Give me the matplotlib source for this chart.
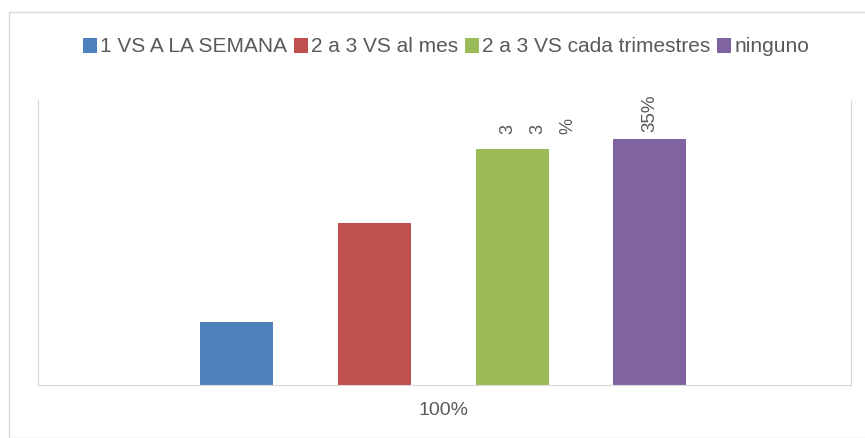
import matplotlib.pyplot as plt
from matplotlib.patches import Rectangle

# data
series = ['1 VS A LA SEMANA', '2 a 3 VS al mes', '2 a 3 VS cada trimestres', 'ninguno']
values = [9, 23, 33.5, 35]
labels = ['', '', '3 3 %', '35%']   # only the last two bars carry labels
category = ['100%']
colors = ['#4F81BD', '#C0504D', '#9BBB59', '#8064A2']

plt.rcParams['font.family'] = ['Liberation Sans Narrow', 'Liberation Sans', 'DejaVu Sans']
grey = '#595959'

fig = plt.figure(figsize=(8.65, 4.38), dpi=100)
W, H = 865, 438
# outer chart border
fig.patches.append(Rectangle((9 / W, 0), 1.2, (H - 12) / H, transform=fig.transFigure,
                             fill=False, edgecolor='#D9D9D9', lw=1))

ax = fig.add_axes([38 / W, (H - 385) / H, (851 - 38) / W, (385 - 100) / H])
x = list(range(len(values)))
bars = ax.bar(x, values, width=0.53, color=colors, label=series)
ax.set_xlim(-1.44, 4.46)
ax.set_ylim(0, 40.5)

ax.spines['top'].set_visible(False)
for s in ['left', 'right', 'bottom']:
    ax.spines[s].set_color('#D9D9D9')
ax.set_yticks([])
ax.set_xticks([1.5])
ax.set_xticklabels(category, fontsize=14, color=grey)
ax.tick_params(axis='x', length=0, pad=12)

# data labels, rotated
for i, (v, lab) in enumerate(zip(values, labels)):
    if not lab:
        continue
    if ' ' in lab:
        # spread-out label: each glyph rotated, laid side by side
        chars = lab.split(' ')
        for k, ch in enumerate(chars):
            ax.annotate(ch, (i, v), xytext=(-3 + k * 21.5, 11), textcoords='offset points',
                        rotation=90, ha='center', va='bottom', fontsize=13, color=grey)
    else:
        ax.annotate(lab, (i, v), xytext=(0, 5), textcoords='offset points',
                    rotation=90, ha='center', va='bottom', fontsize=13.5, color=grey)

leg = fig.legend(handles=bars, labels=series, loc='center', bbox_to_anchor=(446 / W, 1 - 47 / H),
                 ncol=4, frameon=False, fontsize=15, handlelength=0.7, handleheight=0.7,
                 handletextpad=0.15, columnspacing=0.3, borderaxespad=0)
for t in leg.get_texts():
    t.set_color(grey)

fig.savefig('out.png', dpi=100)
